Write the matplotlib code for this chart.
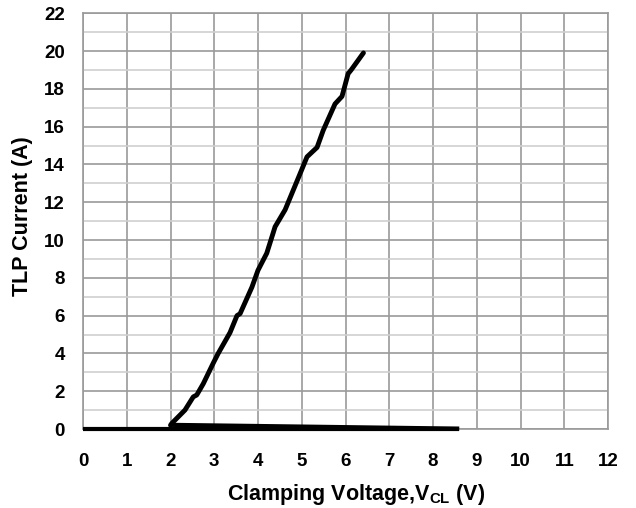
import matplotlib
matplotlib.use("Agg")
import matplotlib.pyplot as plt
import numpy as np

plt.rcParams['font.family'] = ['Liberation Sans', 'DejaVu Sans']
plt.rcParams['mathtext.fontset'] = 'custom'
plt.rcParams['mathtext.rm'] = 'Liberation Sans:bold'
plt.rcParams['mathtext.it'] = 'Liberation Sans:bold'
plt.rcParams['mathtext.bf'] = 'Liberation Sans:bold'
plt.rcParams['mathtext.default'] = 'regular'

# Rising TLP curve (V, A)
v_rise = [2.00, 2.03, 2.33, 2.52, 2.60, 2.75, 2.98, 3.09, 3.36, 3.52, 3.59, 3.86, 4.00, 4.20,
          4.35, 4.39, 4.62, 4.96, 5.12, 5.35, 5.49, 5.76, 5.92, 6.06, 6.13, 6.41]
i_rise = [0.20, 0.30, 1.00, 1.70, 1.80, 2.40, 3.50, 4.00, 5.10, 6.00, 6.10, 7.50, 8.40, 9.30,
          10.40, 10.70, 11.60, 13.50, 14.40, 14.90, 15.80, 17.20, 17.60, 18.80, 19.00, 19.90]

# Leakage / snapback segments near zero current
v_base = [0.0, 8.6]
i_base = [0.0, 0.0]
v_snap = [2.0, 8.6]
i_snap = [0.22, 0.02]

x_ticks = list(range(0, 13))
y_ticks = list(range(0, 23, 2))

fig = plt.figure(figsize=(6.36, 5.08), dpi=100)
ax = fig.add_axes([0.1305, 0.1555, 0.8255, 0.8185])

ax.set_xlim(0, 12)
ax.set_ylim(0, 22)

# grid
for xv in range(0, 13):
    ax.axvline(xv, color='#9a9a9a', lw=1.2, zorder=1)
for yv in range(0, 23):
    ax.axhline(yv, color='#9a9a9a' if yv % 2 == 0 else '#cfcfcf', lw=1.2, zorder=1)

ax.plot(v_base, i_base, color='black', lw=3.0, solid_capstyle='butt', zorder=3, clip_on=False)
ax.plot(v_snap, i_snap, color='black', lw=3.0, solid_capstyle='butt', zorder=3, clip_on=False)
ax.plot(v_rise, i_rise, color='black', lw=3.5, solid_capstyle='round', solid_joinstyle='round', zorder=3)

ax.set_xticks(x_ticks)
ax.set_yticks(y_ticks)
ax.set_xticklabels([str(t) for t in x_ticks], fontsize=13.5, fontweight='bold')
ax.set_yticklabels([str(t) for t in y_ticks], fontsize=13.5, fontweight='bold')
ax.tick_params(axis='x', length=0, pad=17)
ax.tick_params(axis='y', length=0, pad=13)

for s in ax.spines.values():
    s.set_color('#9a9a9a')
    s.set_linewidth(1.2)

ax.set_xlabel('Clamping Voltage,V$_{CL}$ (V)', fontsize=15.5, fontweight='bold')
ax.set_ylabel('TLP Current (A)', fontsize=15.5, fontweight='bold')
ax.xaxis.set_label_coords(0.52, -0.128)
ax.yaxis.set_label_coords(-0.095, 0.512)

fig.savefig('out.png', dpi=100)
